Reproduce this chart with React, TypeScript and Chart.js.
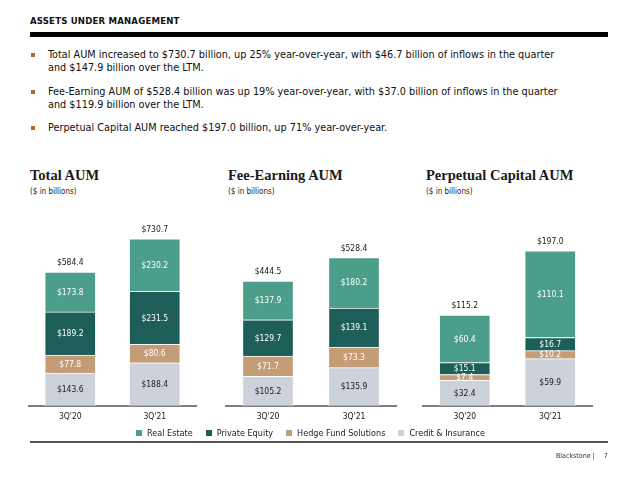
import React, { useEffect, useRef } from "react";
import { Chart, registerables } from "chart.js";

Chart.register(...registerables);

// ---------- data ----------
const categories = ["3Q'20", "3Q'21"];
const seriesNames = ["Credit & Insurance", "Hedge Fund Solutions", "Private Equity", "Real Estate"];
const seriesColors = ["#CDD1D9", "#C49C76", "#1D5E58", "#4B9E89"];
const labelColors = ["#1a1a1a", "#ffffff", "#ffffff", "#ffffff"];
const legendOrder = [3, 2, 1, 0];

const totalAumCredit = [143.6, 188.4];
const totalAumHedge = [77.8, 80.6];
const totalAumPE = [189.2, 231.5];
const totalAumRE = [173.8, 230.2];
const totalAumTotals = [584.4, 730.7];

const feeAumCredit = [105.2, 135.9];
const feeAumHedge = [71.7, 73.3];
const feeAumPE = [129.7, 139.1];
const feeAumRE = [137.9, 180.2];
const feeAumTotals = [444.5, 528.4];

const permAumCredit = [32.4, 59.9];
const permAumHedge = [7.4, 10.2];
const permAumPE = [15.1, 16.7];
const permAumRE = [60.4, 110.1];
const permAumTotals = [115.2, 197.0];

const bullets = [
  "Total AUM increased to $730.7 billion, up 25% year-over-year, with $46.7 billion of inflows in the quarter and $147.9 billion over the LTM.",
  "Fee-Earning AUM of $528.4 billion was up 19% year-over-year, with $37.0 billion of inflows in the quarter and $119.9 billion over the LTM.",
  "Perpetual Capital AUM reached $197.0 billion, up 71% year-over-year.",
];

const SANS = '"DejaVu Sans Condensed", "DejaVu Sans", sans-serif';
const SERIF = '"Liberation Serif", "DejaVu Serif", serif';

const fmt = (v: number) => "$" + v.toFixed(1);

const labelPlugin = {
  id: "segLabels",
  afterDatasetsDraw(chart: any) {
    const ctx = chart.ctx;
    const totals: number[] = chart.options.plugins.segLabels.totals;
    ctx.save();
    ctx.font = `8.5px ${SANS}`;
    ctx.textAlign = "center";
    ctx.textBaseline = "middle";
    chart.data.datasets.forEach((ds: any, di: number) => {
      const meta = chart.getDatasetMeta(di);
      meta.data.forEach((el: any, i: number) => {
        const v = ds.data[i];
        const yc = (el.y + el.base) / 2;
        ctx.fillStyle = labelColors[di];
        ctx.fillText(fmt(v), el.x, yc + 0.5);
      });
    });
    const last = chart.getDatasetMeta(chart.data.datasets.length - 1);
    last.data.forEach((el: any, i: number) => {
      ctx.fillStyle = "#1a1a1a";
      ctx.fillText(fmt(totals[i]), el.x, el.y - 9);
    });
    ctx.restore();
  },
};

type StackProps = {
  left: number;
  top: number;
  width: number;
  height: number;
  series: number[][];
  totals: number[];
  yMax: number;
};

function StackChart({ left, top, width, height, series, totals, yMax }: StackProps) {
  const ref = useRef<HTMLCanvasElement | null>(null);
  useEffect(() => {
    if (!ref.current) return;
    const chart = new Chart(ref.current, {
      type: "bar",
      data: {
        labels: categories,
        datasets: series.map((d, i) => ({
          label: seriesNames[i],
          data: d,
          backgroundColor: seriesColors[i],
          borderColor: "rgba(255,255,255,0.85)",
          borderWidth: 1,
          borderSkipped: "bottom",
          barThickness: 51,
        })),
      },
      options: {
        animation: false,
        responsive: false,
        maintainAspectRatio: false,
        layout: { padding: { top: 0, bottom: 3, left: 0, right: 0 } },
        plugins: {
          legend: { display: false },
          tooltip: { enabled: false },
          segLabels: { totals },
        } as any,
        scales: {
          x: {
            stacked: true,
            grid: { display: false, drawTicks: false },
            border: { display: true, color: "#7f7f7f", width: 2 },
            ticks: { color: "#1a1a1a", font: { family: SANS, size: 8.5 }, padding: 6 },
          },
          y: {
            stacked: true,
            display: false,
            min: 0,
            max: yMax,
          },
        },
      },
      plugins: [labelPlugin],
    });
    return () => chart.destroy();
  }, []);
  return (
    <canvas
      ref={ref}
      width={width}
      height={height}
      style={{ position: "absolute", left, top, width, height }}
    />
  );
}

function Title({ left, text }: { left: number; text: string }) {
  return (
    <>
      <div
        style={{
          position: "absolute",
          left,
          top: 166,
          fontFamily: SERIF,
          fontWeight: 700,
          fontSize: 14.5,
          color: "#1a1a1a",
          whiteSpace: "nowrap",
          lineHeight: "18px",
        }}
      >
        {text}
      </div>
      <div
        style={{
          position: "absolute",
          left,
          top: 186,
          fontFamily: SANS,
          fontSize: 8,
          color: "#1a1a1a",
          whiteSpace: "nowrap",
          lineHeight: "11px",
        }}
      >
        ($ in billions)
      </div>
    </>
  );
}

export default function App() {
  const bulletTops = [48, 85, 121];
  return (
    <div
      style={{
        position: "absolute",
        left: 0,
        top: 0,
        width: 640,
        height: 481,
        background: "#ffffff",
        overflow: "hidden",
        fontFamily: SANS,
      }}
    >
      <div
        style={{
          position: "absolute",
          left: 30,
          top: 15,
          fontSize: 9.5,
          fontWeight: 700,
          color: "#111",
          letterSpacing: 0.2,
          lineHeight: "12px",
        }}
      >
        ASSETS UNDER MANAGEMENT
      </div>
      <div style={{ position: "absolute", left: 30, top: 32, width: 578, height: 5, background: "#000" }} />

      {bullets.map((b, i) => (
        <div key={i}>
          <div
            style={{
              position: "absolute",
              left: 31,
              top: bulletTops[i] + 5,
              width: 4,
              height: 4,
              background: "#B4652A",
            }}
          />
          <div
            style={{
              position: "absolute",
              left: 48,
              top: bulletTops[i],
              width: 515,
              fontSize: 10.8,
              lineHeight: "13px",
              color: "#111",
            }}
          >
            {b}
          </div>
        </div>
      ))}

      <Title left={30} text="Total AUM" />
      <Title left={228} text="Fee-Earning AUM" />
      <Title left={426} text="Perpetual Capital AUM" />

      <StackChart
        left={28}
        top={206}
        width={169}
        height={225}
        series={[totalAumCredit, totalAumHedge, totalAumPE, totalAumRE]}
        totals={totalAumTotals}
        yMax={874}
      />
      <StackChart
        left={225}
        top={206}
        width={172}
        height={225}
        series={[feeAumCredit, feeAumHedge, feeAumPE, feeAumRE]}
        totals={feeAumTotals}
        yMax={712}
      />
      <StackChart
        left={422}
        top={206}
        width={171}
        height={225}
        series={[permAumCredit, permAumHedge, permAumPE, permAumRE]}
        totals={permAumTotals}
        yMax={254}
      />

      <div
        style={{
          position: "absolute",
          left: 30,
          top: 426,
          width: 578,
          display: "flex",
          justifyContent: "center",
          fontSize: 9,
          lineHeight: "14px",
          color: "#1a1a1a",
          whiteSpace: "nowrap",
        }}
      >
        <div style={{ display: "flex", gap: 13, marginLeft: -17 }}>
          {legendOrder.map((si) => (
            <div key={si} style={{ display: "flex", alignItems: "center" }}>
              <span
                style={{
                  display: "inline-block",
                  width: 6,
                  height: 6,
                  background: seriesColors[si],
                  marginRight: 5,
                }}
              />
              {seriesNames[si]}
            </div>
          ))}
        </div>
      </div>
      <div style={{ position: "absolute", left: 30, top: 441, width: 578, height: 1.5, background: "#555" }} />

      <div
        style={{
          position: "absolute",
          left: 556,
          top: 451,
          fontSize: 7,
          lineHeight: "10px",
          color: "#333",
          whiteSpace: "nowrap",
        }}
      >
        Blackstone |<span style={{ marginLeft: 9 }}>7</span>
      </div>
    </div>
  );
}
